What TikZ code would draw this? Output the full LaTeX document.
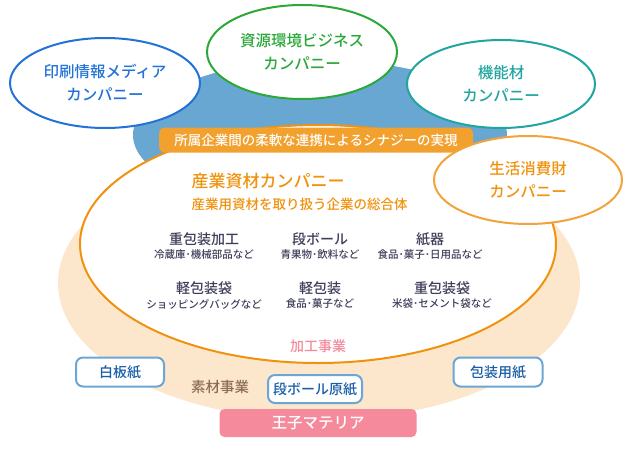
\documentclass[tikz,border=0pt]{standalone}
\usepackage{fontspec}
\setmainfont{Noto Sans CJK JP}[UprightFont=* Medium]
\usetikzlibrary{shapes.geometric}
\definecolor{mybeige}{RGB}{252,231,204}
\definecolor{myblue}{RGB}{105,167,211}
\definecolor{myorange}{RGB}{240,146,14}
\definecolor{mylabel}{RGB}{243,161,46}
\definecolor{mypink}{RGB}{244,138,155}
\definecolor{inkblue}{RGB}{35,115,214}
\definecolor{inkgreen}{RGB}{44,168,58}
\definecolor{inkteal}{RGB}{33,165,160}
\definecolor{inkorange}{RGB}{242,163,58}
\definecolor{boxblue}{RGB}{107,166,214}
\definecolor{boxtext}{RGB}{26,94,168}
\definecolor{itemgray}{RGB}{62,62,90}
\definecolor{mybrown}{RGB}{140,108,88}

\tikzset{
  company/.style={ellipse, draw=#1, text=#1, line width=2pt, fill=white, inner sep=0pt,
    minimum width=190pt, minimum height=90pt, align=center,
    font=\fontsize{15.5}{23}\selectfont},
  itemhead/.style={text=itemgray, font=\fontsize{14}{16}\selectfont},
  itemsub/.style={text=itemgray, font=\fontsize{10.5}{12}\selectfont},
  paperbox/.style={draw=boxblue, line width=2pt, fill=white, rounded corners=7pt,
    text=boxtext, minimum width=88pt, minimum height=29pt, inner sep=0pt,
    font=\fontsize{14}{16}\selectfont}
}

\begin{document}
\begin{tikzpicture}[x=1pt,y=-1pt]
\useasboundingbox (0,0) rectangle (630,450);

%background
\fill[mybeige] (319,283) ellipse [x radius=261, y radius=137];
\fill[myblue] (320,135) ellipse [x radius=187, y radius=75];
\draw[myorange, line width=2pt, fill=white] (318,244) ellipse [x radius=238, y radius=119];

%synergy label
\node[fill=mylabel, rounded corners=6pt, minimum width=314pt, minimum height=25pt,
  inner sep=0pt, text=white, font=\fontsize{13.5}{15}\selectfont] (syn) at (316,140)
  {所属企業間の柔軟な連携によるシナジーの実現};

%companies
\node[company=inkblue] (print) at (105,83) {印刷情報メディア\\カンパニー};
\node[company=inkgreen, minimum height=94pt] (env) at (302,52) {資源環境ビジネス\\カンパニー};
\node[company=inkteal, minimum width=188pt, minimum height=88pt] (func) at (501,84) {機能材\\カンパニー};
\node[company=inkorange, text=myorange, minimum width=188pt, minimum height=88pt] (life) at (528,180) {生活消費財\\カンパニー};

%industrial materials
\node[anchor=west, text=myorange, font=\fontsize{17}{19}\selectfont] (ind) at (188,181) {産業資材カンパニー};
\node[anchor=west, text=myorange, font=\fontsize{13.5}{15}\selectfont] (indsub) at (188,204) {産業用資材を取り扱う企業の総合体};

\node[itemhead] (hpk) at (204,239) {重包装加工};
\node[itemsub] (hpks) at (204,255) {冷蔵庫･機械部品など};
\node[itemhead] (cb) at (320,239) {段ボール};
\node[itemsub] (cbs) at (320,255) {青果物･飲料など};
\node[itemhead] (fb) at (430,239) {紙器};
\node[itemsub] (fbs) at (430,255) {食品･菓子･日用品など};
\node[itemhead] (lbag) at (204,288) {軽包装袋};
\node[itemsub] (lbags) at (204,304) {ショッピングバッグなど};
\node[itemhead] (lpk) at (320,288) {軽包装};
\node[itemsub] (lpks) at (320,304) {食品･菓子など};
\node[itemhead] (hbag) at (442,288) {重包装袋};
\node[itemsub] (hbags) at (442,304) {米袋･セメント袋など};

%businesses
\node[text=mypink, font=\fontsize{14}{16}\selectfont] (proc) at (318,346) {加工事業};
\node[text=mybrown, font=\fontsize{14.5}{16}\selectfont] (mat) at (220,387) {素材事業};

\node[paperbox] (wb) at (120,372) {白板紙};
\node[paperbox, minimum width=94pt, minimum height=28pt] (cbp) at (315,389) {段ボール原紙};
\node[paperbox, minimum width=89pt] (wrap) at (498,372) {包装用紙};

\node[fill=mypink, rounded corners=5pt, minimum width=197pt, minimum height=28pt,
  inner sep=0pt, text=white, font=\fontsize{15.5}{17}\selectfont] (oji) at (318,423) {王子マテリア};

\end{tikzpicture}
\end{document}
